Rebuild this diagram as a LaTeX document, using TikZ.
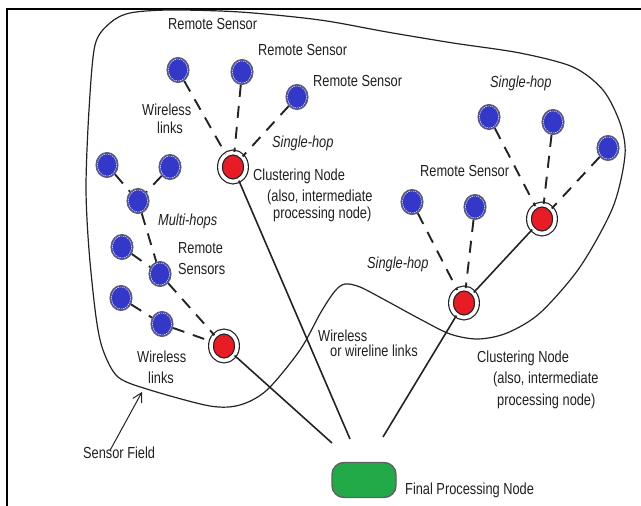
\documentclass[tikz,border=0pt]{standalone}
\usepackage{fontspec}
\setmainfont{Liberation Sans}[FakeStretch=0.8]
\usetikzlibrary{arrows.meta,shapes.geometric}
\definecolor{sblue}{RGB}{52,56,200}
\definecolor{sred}{RGB}{232,28,36}
\definecolor{sgreen}{RGB}{34,170,72}
\definecolor{ink}{RGB}{35,35,35}
\definecolor{txt}{RGB}{32,32,32}
\begin{document}
\begin{tikzpicture}[x=1pt,y=-1pt,
  sensor/.style={ellipse, fill=sblue, draw=gray!75!black, line width=1.1pt,
    minimum width=22pt, minimum height=25pt, inner sep=0pt,
    path picture={\draw[white, line width=0.5pt, dash pattern=on 1.5pt off 0.8pt]
      (path picture bounding box.center) ellipse (9.6pt and 11.1pt);}},
  cluster/.style={ellipse, fill=sred, draw=ink, line width=1.2pt, double=white,
    double distance=3.6pt, minimum width=26pt, minimum height=29pt, inner sep=0pt},
  final/.style={rectangle, rounded corners=12pt, fill=sgreen, draw=gray!75!black,
    line width=1.4pt, minimum width=64pt, minimum height=35pt, inner sep=0pt},
  link/.style={draw=ink, line width=1.9pt, dash pattern=on 12pt off 9pt},
  wire/.style={draw=ink, line width=1.6pt},
  lbl/.style={text=txt, font=\fontsize{16}{18}\selectfont, inner sep=0pt, anchor=base west},
  ilbl/.style={lbl, font=\fontsize{16}{18}\selectfont\itshape}
]
\useasboundingbox (0,0) rectangle (641,506);
% frame
\draw[line width=2.2pt, black] (7,506) -- (7,9) -- (641,9);
% sensor field boundary
\draw[ink, line width=1.2pt] plot[smooth cycle, tension=0.5] coordinates {
 (95,45) (110,23) (130,13) (170,10) (240,12) (320,20) (387,32) (453,43) (520,53)
 (573,67) (603,90) (620,123) (625,155) (613,207) (580,267) (540,313) (507,333)
 (478,339) (450,334) (418,318) (385,300) (360,287) (345,284) (335,291) (321,312)
 (300,350) (267,390) (240,405) (210,406) (150,390) (118,377) (103,350) (96,317)
 (89,250) (86,187) (89,110)};
% nodes
\node[sensor] (b1) at (178,70) {};
\node[sensor] (b2) at (242,72) {};
\node[sensor] (b3) at (297,97) {};
\node[cluster] (c1) at (233,167) {};
\node[sensor] (b4) at (107,165) {};
\node[sensor] (b5) at (170,167) {};
\node[sensor] (b6) at (138,201) {};
\node[sensor] (b7) at (122,247) {};
\node[sensor] (b8) at (160,274) {};
\node[sensor] (b9) at (121,298) {};
\node[sensor] (b10) at (162,324) {};
\node[cluster] (c2) at (224,346) {};
\node[sensor] (b11) at (489,117) {};
\node[sensor] (b12) at (553,122) {};
\node[sensor] (b13) at (608,148) {};
\node[cluster] (c3) at (542,219) {};
\node[sensor] (b14) at (412,202) {};
\node[sensor] (b15) at (475,207) {};
\node[cluster] (c4) at (464,303) {};
\node[final] (fin) at (364,480) {};
\coordinate (e1) at (350,439);
\coordinate (e2) at (332,443);
\coordinate (e3) at (383,437);
\coordinate (sftip) at (142,392);
% dashed wireless links
\draw[link] (b1) -- (c1);
\draw[link] (b2) -- (c1);
\draw[link] (b3) -- (c1);
\draw[link] (b4) -- (b6);
\draw[link] (b5) -- (b6);
\draw[link] (b6) -- (b8);
\draw[link] (b7) -- (b8);
\draw[link] (b8) -- (c2);
\draw[link] (b9) -- (b10);
\draw[link] (b10) -- (c2);
\draw[link] (b11) -- (c3);
\draw[link] (b12) -- (c3);
\draw[link] (b13) -- (c3);
\draw[link] (b14) -- (c4);
\draw[link] (b15) -- (c4);
% solid links
\draw[wire] (c4) -- (c3);
\draw[wire] (c1) -- (e1);
\draw[wire] (c2) -- (e2);
\draw[wire] (c4) -- (e3);
% labels
\node[lbl] (t1) at (168,30) {Remote Sensor};
\node[lbl] (t2) at (258,56) {Remote Sensor};
\node[lbl] (t3) at (313,86) {Remote Sensor};
\node[lbl] (t4) at (142,115) {Wireless};
\node[lbl] (t5) at (157,133) {links};
\node[ilbl] (t6) at (272,147) {Single-hop};
\node[lbl] (t7) at (253,180) {Clustering Node};
\node[lbl] (t8) at (267,201) {(also, intermediate};
\node[lbl] (t9) at (273,218) {processing node)};
\node[ilbl] (t10) at (158,225) {Multi-hops};
\node[lbl] (t11) at (178,253) {Remote};
\node[lbl] (t12) at (178,274) {Sensors};
\node[lbl] (t13) at (137,362) {Wireless};
\node[lbl] (t14) at (148,383) {links};
\node[lbl] (sf) at (83,458) {Sensor Field};
\node[lbl] (t15) at (318,341) {Wireless};
\node[lbl] (t16) at (330,356) {or wireline links};
\node[ilbl] (t17) at (490,87) {Single-hop};
\node[lbl] (t18) at (420,176) {Remote Sensor};
\node[ilbl] (t19) at (367,268) {Single-hop};
\node[lbl] (t20) at (477,362) {Clustering Node};
\node[lbl] (t21) at (493,383) {(also, intermediate};
\node[lbl] (t22) at (497,405) {processing node)};
\node[lbl] (t23) at (405,494) {Final Processing Node};
% sensor field arrow
\draw[ink, line width=1pt, -{Straight Barb[length=9pt,width=10pt]}] ([xshift=-9pt,yshift=-4pt]sf.north) -- (sftip);
\end{tikzpicture}
\end{document}
